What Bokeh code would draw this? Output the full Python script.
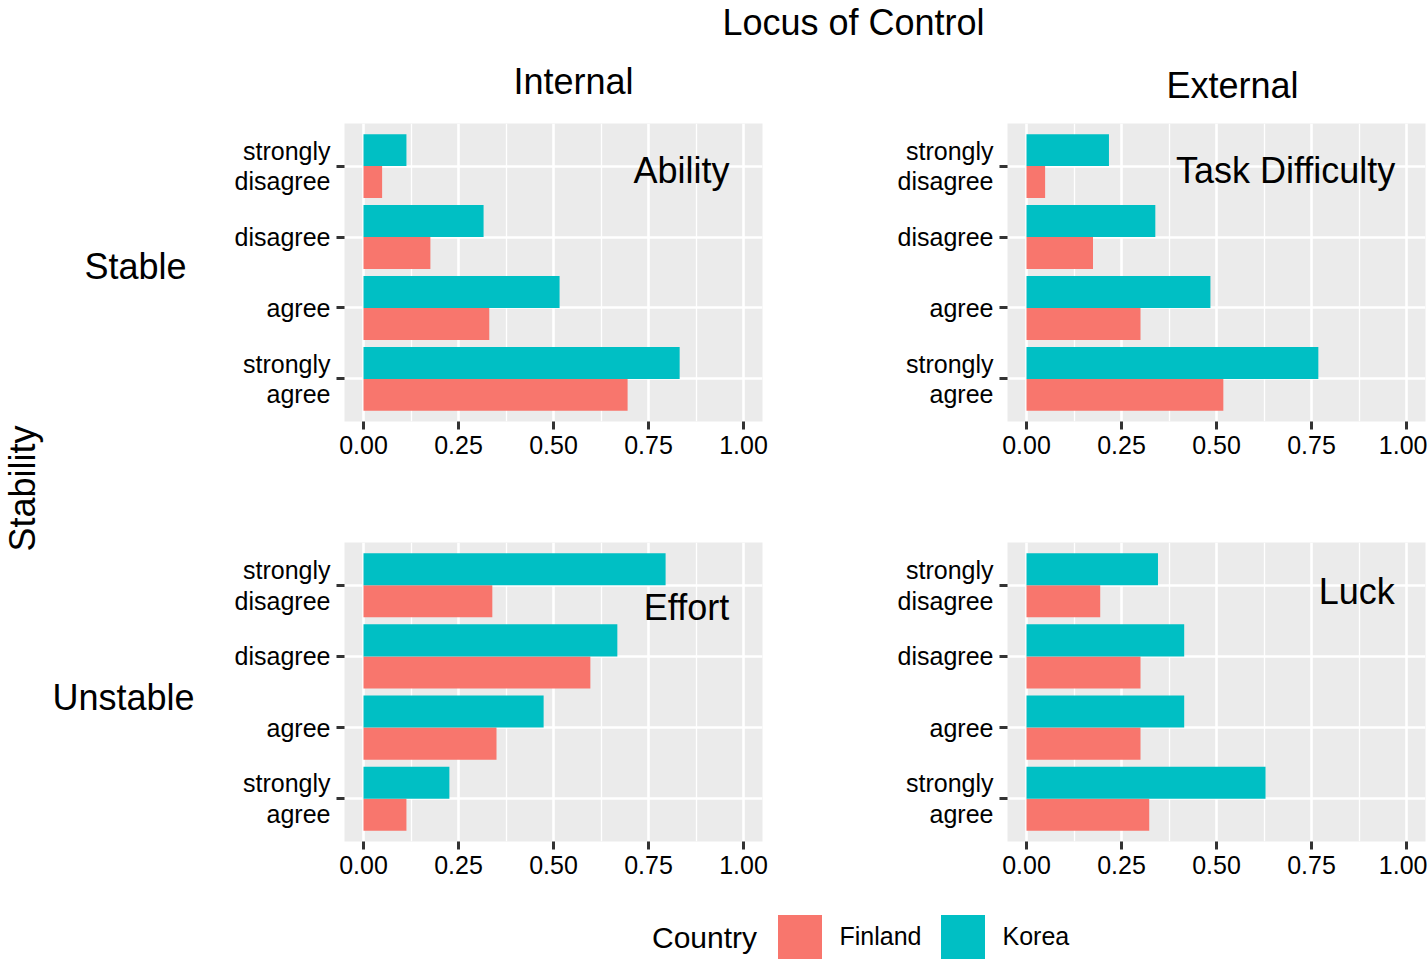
from bokeh.plotting import figure
from bokeh.layouts import row, column
from bokeh.models import (FactorRange, Range1d, Label, Legend, LegendItem,
                          FixedTicker, NumeralTickFormatter, ColumnDataSource)
from bokeh.transform import dodge
from bokeh.embed import file_html
from bokeh.resources import INLINE

FONT = "Liberation Sans"

# ---------------- data ----------------
responses = ["strongly\ndisagree", "disagree", "agree", "strongly\nagree"]
countries = ["Finland", "Korea"]
country_colors = ["#F8766D", "#00BFC4"]

ability_finland = [0.049, 0.176, 0.331, 0.695]
ability_korea = [0.113, 0.316, 0.516, 0.832]
task_finland = [0.049, 0.175, 0.300, 0.518]
task_korea = [0.217, 0.339, 0.484, 0.768]
effort_finland = [0.339, 0.597, 0.350, 0.113]
effort_korea = [0.795, 0.668, 0.474, 0.226]
luck_finland = [0.194, 0.300, 0.300, 0.323]
luck_korea = [0.346, 0.415, 0.415, 0.629]

x_ticks = [0.0, 0.25, 0.50, 0.75, 1.0]
x_minor = [0.125, 0.375, 0.625, 0.875]

# ---------------- helpers ----------------
def blank(width, height):
    p = figure(width=width, height=height, x_range=Range1d(0, width),
               y_range=Range1d(height, 0), x_axis_type=None, y_axis_type=None,
               output_backend="svg", toolbar_location=None, min_border=0)
    p.outline_line_color = None
    p.background_fill_color = "white"
    p.border_fill_color = "white"
    return p


def text(p, x, y, t, size, angle=0.0, align="center"):
    p.add_layout(Label(x=x, y=y, text=t, text_font=FONT, text_font_size=size,
                       text_color="black", text_align=align,
                       text_baseline="middle", angle=angle))


def panel(fin, kor, width, height, bl, br, bt, bb, note, nx, ny):
    yr = FactorRange(factors=responses[::-1], range_padding=0.1,
                     range_padding_units="absolute")
    p = figure(width=width, height=height, y_range=yr,
               x_range=Range1d(-0.05, 1.05), output_backend="svg",
               toolbar_location=None, min_border_left=bl, min_border_right=br,
               min_border_top=bt, min_border_bottom=bb)
    src = ColumnDataSource(dict(resp=responses, Finland=fin, Korea=kor))
    p.hbar(y=dodge("resp", -0.225, range=yr), left=0, right="Finland",
           height=0.45, source=src, fill_color=country_colors[0], line_color=None)
    p.hbar(y=dodge("resp", 0.225, range=yr), left=0, right="Korea",
           height=0.45, source=src, fill_color=country_colors[1], line_color=None)

    p.background_fill_color = "#EBEBEB"
    p.border_fill_color = "white"
    p.outline_line_color = None

    t = FixedTicker(ticks=x_ticks, minor_ticks=x_minor)
    p.xaxis.ticker = t
    p.xgrid.ticker = t
    p.xaxis.formatter = NumeralTickFormatter(format="0.00")
    p.xgrid.grid_line_color = "white"
    p.xgrid.grid_line_width = 2.6
    p.xgrid.minor_grid_line_color = "white"
    p.xgrid.minor_grid_line_width = 1.3
    p.ygrid.grid_line_color = "white"
    p.ygrid.grid_line_width = 2.6

    for ax in (p.xaxis, p.yaxis):
        ax.axis_line_color = None
        ax.major_tick_line_color = "#333333"
        ax.major_tick_line_width = 3
        ax.major_tick_out = 8
        ax.major_tick_in = 0
        ax.minor_tick_line_color = None
        ax.major_label_text_font = FONT
        ax.major_label_text_font_size = "25px"
        ax.major_label_text_color = "black"
    p.xaxis.major_label_standoff = 6
    p.yaxis.major_label_standoff = 6
    p.yaxis.major_label_text_line_height = 1.1

    p.add_layout(Label(x=nx, y=ny, text=note, text_font=FONT,
                       text_font_size="36px", text_color="black",
                       text_align="center", text_baseline="middle"))
    return p


# ---------------- header ----------------
header = blank(1427, 108)
text(header, 853, 22, "Locus of Control", "36px")
text(header, 573, 81, "Internal", "36px")
text(header, 1232, 85, "External", "36px")

# ---------------- left strip ----------------
strip = blank(213, 778)
text(strip, 22, 380, "Stability", "36px", angle=1.5708)
text(strip, 135, 158, "Stable", "36px")
text(strip, 123, 589, "Unstable", "36px")

# ---------------- panels ----------------
tl = panel(ability_finland, ability_korea, 595, 420, 131, 46, 15, 107,
           "Ability", 0.837, 3.44)
tr = panel(task_finland, task_korea, 619, 420, 199, 2, 15, 107,
           "Task Difficulty", 0.682, 3.44)
bl = panel(effort_finland, effort_korea, 595, 358, 131, 46, 14, 45,
           "Effort", 0.85, 3.18)
br = panel(luck_finland, luck_korea, 619, 358, 199, 2, 14, 45,
           "Luck", 0.869, 3.41)

# ---------------- legend ----------------
leg = blank(1427, 76)
items = []
for name, col in zip(countries, country_colors):
    r = leg.hbar(y=[0], left=[0], right=[0], height=0,
                 fill_color=col, line_color=None)
    items.append(LegendItem(label=name, renderers=[r]))
legend = Legend(items=items, location=(771.5, -1.5), orientation="horizontal",
                glyph_width=55, glyph_height=55, label_standoff=13,
                spacing=13, padding=0, margin=0, border_line_color=None,
                background_fill_alpha=0, label_text_font=FONT,
                label_text_font_size="25px", label_text_color="black")
leg.add_layout(legend)
text(leg, 704, 51, "Country", "30px")

layout = column(header,
                row(strip, column(row(tl, tr), row(bl, br))),
                leg)

open("out.html", "w").write(file_html(layout, INLINE))
